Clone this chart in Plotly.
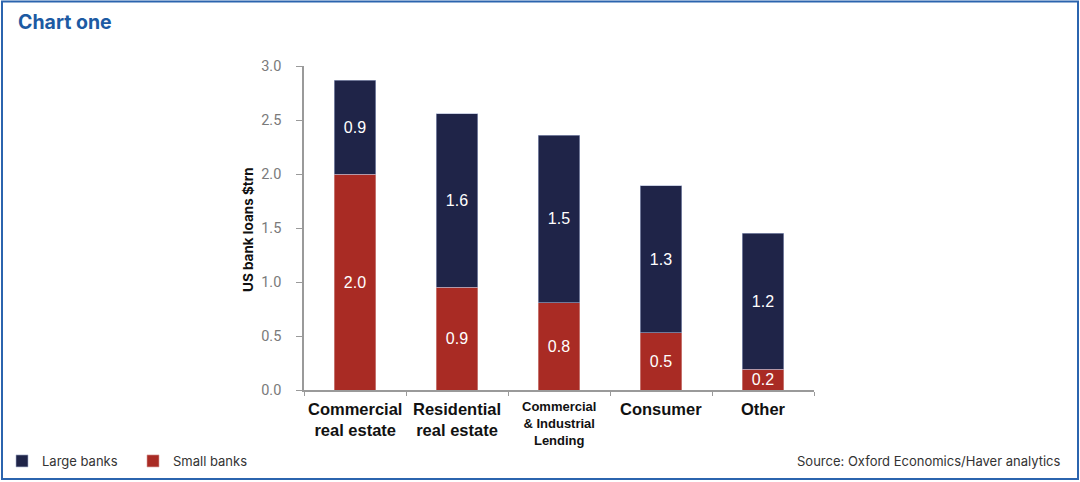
import plotly.graph_objects as go

categories = ["Commercial real estate", "Residential real estate",
              "Commercial & Industrial Lending", "Consumer", "Other"]
cat_labels = ["Commercial<br>real estate", "Residential<br>real estate",
              "Commercial<br>& Industrial<br>Lending", "Consumer", "Other"]
small_banks = [2.0, 0.95, 0.81, 0.53, 0.19]
large_banks = [0.87, 1.61, 1.55, 1.36, 1.26]
small_text = ["2.0", "0.9", "0.8", "0.5", "0.2"]
large_text = ["0.9", "1.6", "1.5", "1.3", "1.2"]
y_ticks = [0.0, 0.5, 1.0, 1.5, 2.0, 2.5, 3.0]

NAVY = "#1f2448"
RED = "#a92b24"
BLUE = "#1c5aa3"

W, H = 1080, 482
L, R, T, B = 304, 266, 66, 92
pw, ph = W - L - R, H - T - B

def px(x):
    return (x - L) / pw

def py(y):
    return (H - B - y) / ph

fig = go.Figure()
fig.add_trace(go.Bar(
    x=categories, y=small_banks, name="Small banks",
    marker=dict(color=RED, line=dict(color="#d9a09c", width=0.6)),
    text=small_text, textposition="inside", insidetextanchor="middle",
    textfont=dict(color="white", size=16, family="Liberation Sans, Arial"),
    width=0.41, legendrank=2,
))
fig.add_trace(go.Bar(
    x=categories, y=large_banks, name="Large banks",
    marker=dict(color=NAVY, line=dict(color="#a9b3d0", width=0.6)),
    text=large_text, textposition="inside", insidetextanchor="middle",
    textfont=dict(color="white", size=16, family="Liberation Sans, Arial"),
    width=0.41, legendrank=1,
))

annotations = []
for i, lab in enumerate(cat_labels):
    small = i == 2
    annotations.append(dict(
        x=categories[i], xref="x", y=py(397 if small else 398), yref="paper",
        text=lab, showarrow=False, yanchor="top", xanchor="center",
        align="center",
        font=dict(family="Liberation Sans, Arial", size=13 if small else 16.5,
                  color="#111111", weight="bold"),
    ))

annotations.append(dict(
    x=px(248), y=py(230), xref="paper", yref="paper", text="US bank loans $trn",
    textangle=-90, showarrow=False, xanchor="center", yanchor="middle",
    font=dict(family="Inter, Lato, sans-serif", size=13.5, color="#111111", weight="bold"),
))
annotations.append(dict(
    x=px(16), y=py(22), xref="paper", yref="paper", text="Chart one",
    showarrow=False, xanchor="left", yanchor="middle",
    font=dict(family="Inter, Lato, sans-serif", size=19.5, color=BLUE, weight="bold"),
))
annotations.append(dict(
    x=px(1063), y=py(461), xref="paper", yref="paper",
    text="Source: Oxford Economics/Haver analytics",
    showarrow=False, xanchor="right", yanchor="middle",
    font=dict(family="Inter, Lato, sans-serif", size=13, color="#333333"),
))

shapes = [dict(
    type="rect", xref="paper", yref="paper",
    x0=px(2), x1=px(1078), y0=py(479), y1=py(1.5),
    line=dict(color="#2b64ae", width=2), fillcolor="rgba(0,0,0,0)", layer="below",
)]

fig.update_layout(
    width=W, height=H,
    margin=dict(l=L, r=R, t=T, b=B, autoexpand=False),
    barmode="stack",
    plot_bgcolor="white", paper_bgcolor="white",
    uniformtext=dict(minsize=16, mode="show"),
    showlegend=True,
    legend=dict(
        orientation="h", x=px(2), y=py(461), xanchor="left", yanchor="middle",
        traceorder="normal",
        font=dict(family="Inter, Lato, sans-serif", size=13, color="#333333"),
        entrywidth=86, entrywidthmode="pixels", bgcolor="rgba(0,0,0,0)",
    ),
    xaxis=dict(
        showticklabels=False, ticks="outside", tickson="boundaries", ticklen=4,
        tickcolor="#9a9a9a", showline=True, linecolor="#9a9a9a", linewidth=1.5,
        range=[-0.5, 4.5], showgrid=False,
    ),
    yaxis=dict(
        range=[0, 3.0], tickvals=y_ticks, ticktext=[f"{v:.1f}" for v in y_ticks],
        ticks="outside", ticklen=6, tickcolor="#9a9a9a",
        showline=True, linecolor="#9a9a9a", linewidth=1.5, showgrid=False,
        zeroline=False, ticklabelstandoff=12,
        tickfont=dict(family="Roboto, sans-serif", size=14.5, color="#7a7a7a"),
    ),
    annotations=annotations,
    shapes=shapes,
)

fig.write_html("out.html", config={"displayModeBar": False},
               post_script="document.body.style.margin='0';")
